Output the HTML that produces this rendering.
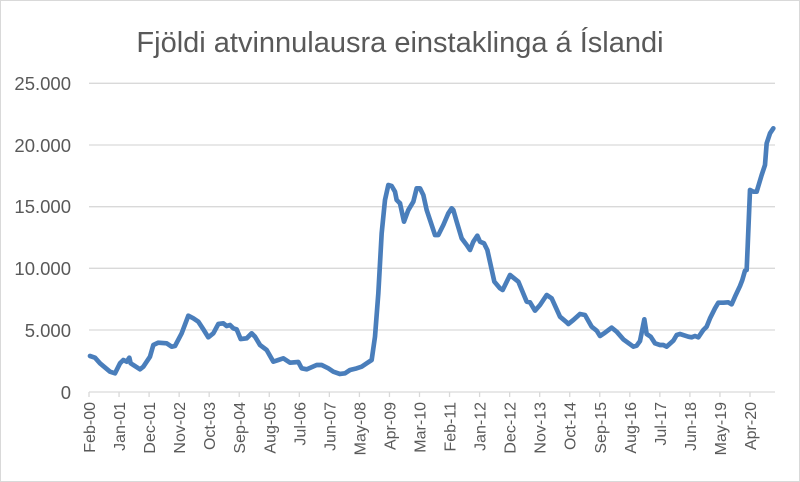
<!DOCTYPE html>
<html><head><meta charset="utf-8"><style>
html,body{margin:0;padding:0;background:#fff}
svg{display:block;font-family:"Liberation Sans",Arial,sans-serif}
</style></head><body>
<svg width="800" height="482" viewBox="0 0 800 482">
<rect x="0.5" y="0.5" width="799" height="481" fill="#fff" stroke="#d9d9d9"/>
<text x="400" y="52" text-anchor="middle" font-size="29" fill="#595959">Fjöldi atvinnulausra einstaklinga á Íslandi</text>
<g stroke="#d9d9d9" stroke-width="1.3">
<line x1="89" x2="775" y1="83.3" y2="83.3"/>
<line x1="89" x2="775" y1="145" y2="145"/>
<line x1="89" x2="775" y1="206.7" y2="206.7"/>
<line x1="89" x2="775" y1="268.3" y2="268.3"/>
<line x1="89" x2="775" y1="330" y2="330"/>
<line x1="89" x2="775" y1="392" y2="392"/>
</g>
<g font-size="18.5" fill="#595959" text-anchor="end">
<text x="71" y="90">25.000</text>
<text x="71" y="152">20.000</text>
<text x="71" y="213">15.000</text>
<text x="71" y="275">10.000</text>
<text x="71" y="337">5.000</text>
<text x="71" y="399">0</text>
</g>
<g id="ticks" stroke="#d9d9d9" stroke-width="1.3"></g>
<g id="xl" font-size="16" fill="#595959"></g>
<g transform="translate(0,60) scale(0.33333)" fill="none" stroke="#4a7ebb" stroke-width="14" stroke-linejoin="round" stroke-linecap="round">
<polyline points="270,888 285,893 300,910 330,935 345,940 360,910 370,900 380,905 388,893 392,910 400,915 420,928 430,920 450,890 460,855 475,848 500,850 515,860 525,858 545,820 565,767 580,775 595,785 610,808 625,832 640,820 655,792 670,790 680,798 690,795 700,805 710,808 722,837 740,835 755,820 765,830 780,855 800,870 820,905 835,900 850,895 870,908 895,906 905,925 920,928 950,915 965,915 985,925 1000,935 1020,942 1035,940 1050,930 1070,925 1085,920 1100,910 1115,900 1125,830 1135,700 1145,520 1155,420 1165,375 1175,378 1185,395 1190,420 1200,430"/>
</g>
<g transform="translate(400,60) scale(0.33333)" fill="none" stroke="#4a7ebb" stroke-width="14" stroke-linejoin="round" stroke-linecap="round">
<polyline points="0,430 12,485 25,450 40,425 50,385 60,385 70,405 80,450 90,480 105,525 115,525 130,495 145,460 155,445 160,450 170,485 185,535 200,555 210,570 220,545 232,527 240,545 252,550 262,570 283,665 300,685 308,690 330,645 355,665 380,725 390,727 405,752 420,735 440,705 455,715 480,770 500,787 505,792 520,780 540,762 555,765 575,800 590,812 600,828 615,818 635,803 650,815 670,838 700,860 710,857 720,843 733,778 740,822 752,830 765,850 780,855 790,855 800,860 820,842 830,825 840,822 865,830 875,832 885,828 895,832 910,810 920,800 930,775 945,745 955,728 970,728 985,727 995,733 1005,710 1020,678 1027,660 1035,632 1040,630 1043,560 1050,390 1060,395 1070,395 1085,345 1095,315 1100,250 1110,220 1120,205"/>
</g>
</svg>
<script>
var labs=["Feb-00","Jan-01","Dec-01","Nov-02","Oct-03","Sep-04","Aug-05","Jul-06","Jun-07","May-08","Apr-09","Mar-10","Feb-11","Jan-12","Dec-12","Nov-13","Oct-14","Sep-15","Aug-16","Jul-17","Jun-18","May-19","Apr-20"];
var ns="http://www.w3.org/2000/svg",t=document.getElementById("ticks"),g=document.getElementById("xl");
labs.forEach(function(l,i){var x=89+i*(750-89)/22;
var ln=document.createElementNS(ns,"line");ln.setAttribute("x1",x);ln.setAttribute("x2",x);ln.setAttribute("y1",392);ln.setAttribute("y2",397);t.appendChild(ln);
var tx=document.createElementNS(ns,"text");tx.setAttribute("transform","translate("+(x+6)+",402) rotate(-90)");tx.setAttribute("text-anchor","end");tx.textContent=l;g.appendChild(tx);});
</script>
</body></html>
